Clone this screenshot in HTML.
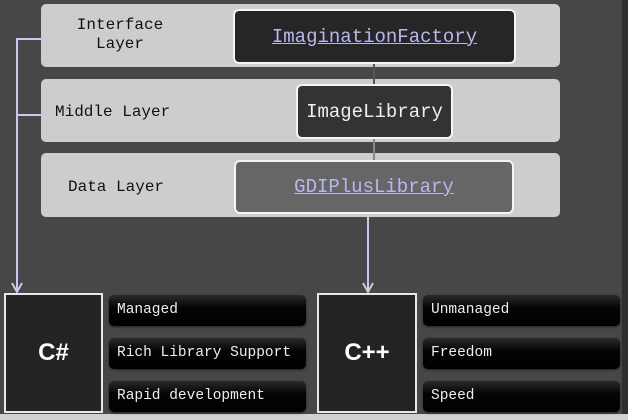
<!DOCTYPE html>
<html><head><meta charset="utf-8"><style>
body{margin:0;width:628px;height:420px;background:#474747;position:relative;overflow:hidden;font-family:"Liberation Mono",monospace}
.a{position:absolute;box-sizing:border-box}
.band{background:#cdcdcd;border-radius:5px;left:41px;width:519px}
.lbl{color:#111;font-size:16px;text-align:center;line-height:19px}
.node{border:2px solid #f4f4f4;border-radius:6px;display:flex;align-items:center;justify-content:center;font-size:19px}
.link{color:#b8b8ee;text-decoration:underline}
.big{background:#232323;border:2px solid #e8e8e8;color:#fff;font-family:"Liberation Sans",sans-serif;font-weight:bold;font-size:24px;display:flex;align-items:center;justify-content:center}
.pill{background:linear-gradient(#2a2a2a,#050505 40%,#000);border-radius:5px;color:#eee;font-size:14.5px;padding-left:8px;line-height:31px;height:31px;box-shadow:0 1px 2px #222}
</style></head><body>
<div class="a" style="left:622px;top:0;width:6px;height:420px;background:#2e2e2e"></div>
<div class="a" style="left:0;top:414px;width:628px;height:6px;background:#d0d0d0"></div>
<div class="a band" style="top:4px;height:63px"></div>
<div class="a band" style="top:79px;height:63px"></div>
<div class="a band" style="top:153px;height:64px"></div>
<div class="a lbl" style="left:60px;top:16px;width:120px">Interface<br>Layer</div>
<div class="a lbl" style="left:55px;top:103px">Middle Layer</div>
<div class="a lbl" style="left:68px;top:178px">Data Layer</div>
<div class="a" style="left:373px;top:63px;width:2px;height:22px;background:#555"></div>
<div class="a" style="left:373px;top:138px;width:2px;height:23px;background:#888"></div>
<div class="a node" style="left:233px;top:9px;width:283px;height:55px;background:#262626"><span class="link">ImaginationFactory</span></div>
<div class="a node" style="left:296px;top:84px;width:157px;height:55px;background:#333;color:#eee">ImageLibrary</div>
<div class="a node" style="left:234px;top:160px;width:280px;height:54px;background:#666"><span class="link">GDIPlusLibrary</span></div>
<svg class="a" style="left:0;top:0" width="628" height="420">
<g stroke="#c8c8f0" stroke-width="2" fill="none">
<path d="M48 39H17V290M17 115H41M368 214V290"/>
<path d="M12 283L17 292L22 283M363 283L368 292L373 283"/>
</g></svg>
<div class="a big" style="left:4px;top:293px;width:99px;height:120px">C#</div>
<div class="a big" style="left:317px;top:293px;width:100px;height:120px">C++</div>
<div class="a pill" style="left:109px;top:295px;width:197px">Managed</div>
<div class="a pill" style="left:109px;top:338px;width:197px">Rich Library Support</div>
<div class="a pill" style="left:109px;top:381px;width:197px">Rapid development</div>
<div class="a pill" style="left:423px;top:295px;width:197px">Unmanaged</div>
<div class="a pill" style="left:423px;top:338px;width:197px">Freedom</div>
<div class="a pill" style="left:423px;top:381px;width:197px">Speed</div>
</body></html>
